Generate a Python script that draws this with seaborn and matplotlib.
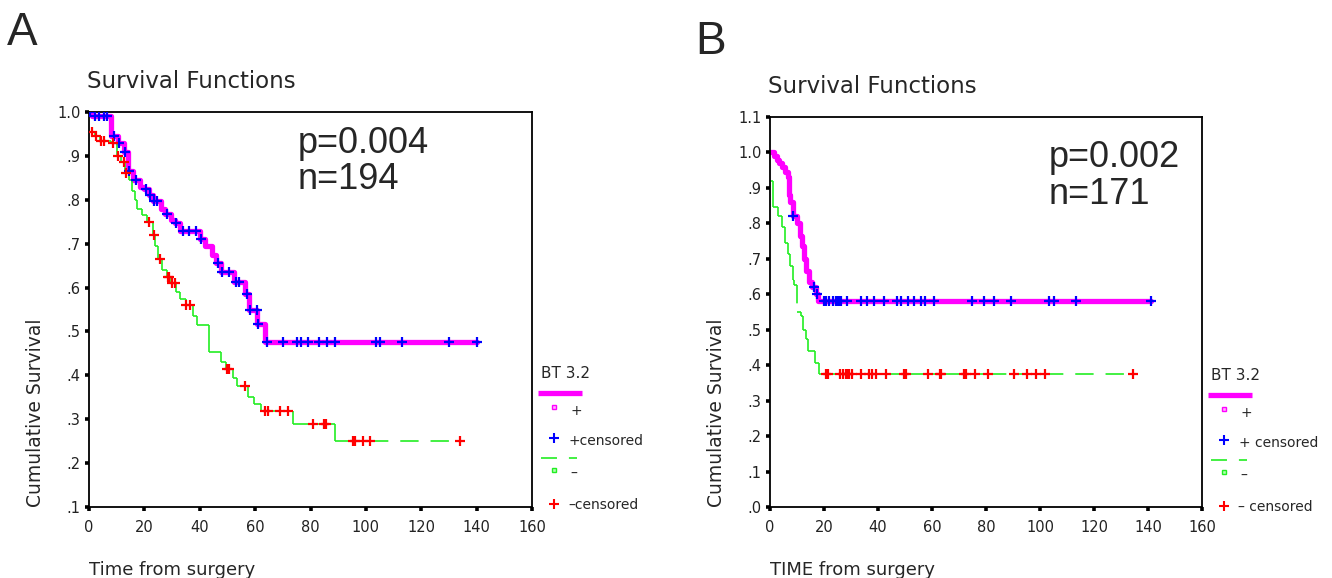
import numpy as np
import pandas as pd
import matplotlib
matplotlib.use("Agg")
import matplotlib.pyplot as plt
from matplotlib.lines import Line2D
from matplotlib.ticker import FuncFormatter
import seaborn as sns

# =====================================================
# DATA  (months from surgery)
# repeated times = several deaths at the same time
# =====================================================
# panel A, BT3.2 "+" : step times / survival after each step
a_pos_t = [0, 1, 8, 10.5, 12.5, 14, 16, 18.5, 20, 21.5, 23, 26, 27.5, 29.5, 31, 33,
           40, 42, 44.5, 46, 47.5, 52.5, 56.5, 57.8, 60.8, 63.6, 140]
a_pos_s = [1.0, .99, .945, .93, .91, .865, .845, .83, .825, .81, .797, .78, .768, .755,
           .748, .73, .71, .695, .675, .657, .636, .613, .586, .55, .516, .477, .477]
a_pos_cens = [0.5, 2, 3.5, 5.5, 6.5, 9, 11, 13, 14.5, 17, 20.5, 22, 23.5, 24.5, 28, 31.5,
              34, 36, 38.5, 40.5, 46.7, 48, 50.5, 53, 54.3, 57, 58.2, 60.6, 61, 64.2, 70,
              75, 76.5, 79, 83, 86, 89, 103.5, 105, 113, 130, 140]

# panel A, BT3.2 "-"
a_neg_t = [0, 2, 4, 8, 10, 11.5, 13, 14.5, 15.5, 16.5, 17.5, 19, 21, 23, 24, 25, 26.5,
           28, 29.5, 31.5, 33, 35, 37.5, 39, 43.5, 43.5, 47.5, 49.5, 52, 53.5, 57.5, 59.5,
           62, 73.5, 89, 89, 134]
a_neg_s = [.955, .945, .935, .93, .90, .885, .86, .845, .82, .80, .78, .765, .75, .72,
           .695, .665, .64, .625, .61, .59, .575, .56, .535, .515, .485, .453, .43, .415,
           .395, .376, .35, .335, .318, .29, .27, .25, .25]
a_neg_cens = [1, 2.5, 4.5, 5.5, 8.5, 10.5, 12.5, 13.5, 21.5, 23.5, 25.5, 28.5, 29, 30, 31,
              35, 36.5, 50, 50.5, 56.5, 63.5, 64.5, 69, 72, 81, 85, 85.5, 95.5, 96, 99,
              101.5, 134]

# panel B, BT3.2 "+"
b_pos_t = [0, 1.5, 2.5, 3.5, 4.5, 5.5, 6.5, 7, 7.5, 8.5, 10, 11, 12, 12.5, 13.5, 14.5,
           15.5, 17, 17.8, 141]
b_pos_s = [1.0, .99, .98, .97, .96, .945, .93, .88, .86, .82, .80, .765, .735, .70, .665,
           .635, .62, .60, .58, .58]
b_pos_cens = [8.7, 16.3, 17.3, 20.1, 20.9, 21.7, 23.3, 24.4, 24.9, 25.7, 26.2, 28.5, 33.6,
              36, 38.7, 42.3, 47.1, 48.7, 51.1, 53.4, 55.8, 57.4, 60.9, 74.9, 79.3, 82.8,
              89.1, 103.4, 105.3, 113.4, 141]

# panel B, BT3.2 "-"
b_neg_t = [0.5, 1, 1, 3, 4.5, 5.5, 6.5, 7.5, 8.5, 9, 10, 11.5, 12.3, 13.5, 14.2, 16.5, 18,
           134.5]
b_neg_s = [.92, .88, .845, .82, .79, .745, .715, .68, .64, .625, .55, .54, .50, .475, .44,
           .405, .375, .375]
b_neg_cens = [20.6, 21.4, 26, 27, 28.1, 28.9, 29.3, 30.4, 33.6, 36.8, 37.6, 39.2, 43.1,
              49.8, 50.3, 58.7, 63, 63.4, 71.7, 72.5, 76.1, 80.9, 90.4, 95.1, 98.6, 101.8,
              134.5]

x_ticks = [0, 20, 40, 60, 80, 100, 120, 140, 160]
a_y_ticks = [0.1, 0.2, 0.3, 0.4, 0.5, 0.6, 0.7, 0.8, 0.9, 1.0]
b_y_ticks = [0.0, 0.1, 0.2, 0.3, 0.4, 0.5, 0.6, 0.7, 0.8, 0.9, 1.0, 1.1]

MAGENTA = "#ff00ff"
BLUE = "#0000ff"
GREEN = "#22ee22"
RED = "#ff0000"
DASH = (0, (13.2, 8.6))

W, H = 1332, 578

# =====================================================
# HELPERS
# =====================================================
def level_at(times, surv, t):
    idx = np.searchsorted(times, t, side="right") - 1
    return np.asarray(surv)[np.clip(idx, 0, None)]


def segment_table(times, surv, cens):
    # every horizontal run and every drop is its own piece,
    # so the dash pattern restarts at each vertex (SPSS look)
    cases = sorted(list(zip(times, surv)) + [(t, None) for t in cens], key=lambda c: c[0])
    cur_t, cur_s = cases[0]
    rows = []
    for k, (t, s) in enumerate(cases[1:]):
        new_s = cur_s if s is None else s
        rows += [(2 * k, cur_t, cur_s), (2 * k, t, cur_s)]
        rows += [(2 * k + 1, t, cur_s), (2 * k + 1, t, new_s)]
        cur_t, cur_s = t, new_s
    return pd.DataFrame(rows, columns=["seg", "t", "s"])


def fmt_tick(v, _):
    s = f"{v:.1f}"
    return s[1:] if s.startswith("0") else s


def fx(px):
    return px / W


def fy(py):
    return 1 - py / H


def draw_panel(ax, pos_t, pos_s, pos_cens, neg_t, neg_s, neg_cens, yticks, ylim):
    sns.lineplot(x=pos_t, y=pos_s, drawstyle="steps-post", estimator=None, sort=False,
                 color=MAGENTA, lw=3.8, ax=ax, legend=False, zorder=2)
    seg = segment_table(neg_t, neg_s, neg_cens)
    sns.lineplot(data=seg, x="t", y="s", units="seg", estimator=None, sort=False,
                 color=GREEN, lw=1.2, linestyle=DASH, ax=ax, legend=False, zorder=2)
    sns.scatterplot(x=pos_cens, y=level_at(pos_t, pos_s, pos_cens), marker="+", s=55,
                    color=BLUE, linewidth=1.6, ax=ax, legend=False, zorder=4)
    sns.scatterplot(x=neg_cens, y=level_at(neg_t, neg_s, neg_cens), marker="+", s=55,
                    color=RED, linewidth=1.6, ax=ax, legend=False, zorder=4)

    ax.set_xlim(0, 160)
    ax.set_ylim(*ylim)
    ax.set_xticks(x_ticks)
    ax.set_yticks(yticks)
    ax.yaxis.set_major_formatter(FuncFormatter(fmt_tick))
    ax.tick_params(direction="out", length=3, width=2.6, color="black",
                   labelsize=10.5, labelcolor="#222222", pad=3)
    ax.tick_params(axis="x", pad=6)
    for sp in ax.spines.values():
        sp.set_visible(True)
        sp.set_linewidth(1.3)
        sp.set_color("black")
    ax.set_title("Survival Functions", loc="left", fontsize=16.5, pad=17, x=-0.005)
    ax.set_ylabel("Cumulative Survival", loc="bottom", fontsize=13.5, labelpad=9)


def draw_key(fig, x0, y0, cens_txt):
    # legend block "BT 3.2" placed by pixel offsets
    fig.text(fx(x0), fy(y0), "BT 3.2", fontsize=11, va="center", ha="left")
    fig.add_artist(Line2D([fx(x0 - 3), fx(x0 + 41)], [fy(y0 + 20)] * 2, color=MAGENTA,
                          lw=3.8, solid_capstyle="butt", transform=fig.transFigure))
    fig.add_artist(Line2D([fx(x0 + 13)], [fy(y0 + 34)], marker="s", ms=3.5, mfc="#ffb0ff",
                          mec=MAGENTA, mew=1, transform=fig.transFigure))
    fig.text(fx(x0 + 29), fy(y0 + 38), "+", fontsize=10, va="center", ha="left")
    fig.add_artist(Line2D([fx(x0 + 13)], [fy(y0 + 65)], marker="+", ms=7, mec=BLUE,
                          mew=1.5, transform=fig.transFigure))
    fig.text(fx(x0 + 28), fy(y0 + 68), "+" + cens_txt, fontsize=10, va="center", ha="left")
    fig.add_artist(Line2D([fx(x0), fx(x0 + 36)], [fy(y0 + 85)] * 2, color=GREEN, lw=1.2,
                          linestyle=(0, (11.5, 8.6)), transform=fig.transFigure))
    fig.add_artist(Line2D([fx(x0 + 13)], [fy(y0 + 97)], marker="s", ms=3.5, mfc="#b0ffb0",
                          mec=GREEN, mew=1, transform=fig.transFigure))
    fig.text(fx(x0 + 29), fy(y0 + 101), "–", fontsize=10, va="center", ha="left")
    fig.add_artist(Line2D([fx(x0 + 13)], [fy(y0 + 131)], marker="+", ms=7, mec=RED,
                          mew=1.5, transform=fig.transFigure))
    fig.text(fx(x0 + 27), fy(y0 + 132), "–" + cens_txt, fontsize=10, va="center", ha="left")


# =====================================================
# FIGURE
# =====================================================
sns.set_style("ticks")
plt.rcParams["font.family"] = ["DejaVu Sans"]
plt.rcParams["lines.scale_dashes"] = False

fig = plt.figure(figsize=(W / 100, H / 100), dpi=100)
ax_a = fig.add_axes([fx(89), fy(507), fx(443), 395 / H])
ax_b = fig.add_axes([fx(770), fy(507), fx(432), 390 / H])

draw_panel(ax_a, a_pos_t, a_pos_s, a_pos_cens, a_neg_t, a_neg_s, a_neg_cens,
           a_y_ticks, (0.1, 1.0))
draw_panel(ax_b, b_pos_t, b_pos_s, b_pos_cens, b_neg_t, b_neg_s, b_neg_cens,
           b_y_ticks, (0.0, 1.1))

ax_a.set_xlabel("Time from surgery", loc="left", fontsize=13, labelpad=19)
ax_b.set_xlabel("TIME from surgery", loc="left", fontsize=13, labelpad=19)

ax_a.text(0.472, 0.965, "p=0.004\nn=194", transform=ax_a.transAxes, fontsize=26,
          family="Liberation Sans", va="top", ha="left", linespacing=1.05)
ax_b.text(0.646, 0.94, "p=0.002\nn=171", transform=ax_b.transAxes, fontsize=26,
          family="Liberation Sans", va="top", ha="left", linespacing=1.05)

draw_key(fig, 541, 373, "censored")
draw_key(fig, 1211, 375, " censored")

fig.text(fx(7), fy(11), "A", fontsize=33, family="Liberation Sans", va="top", ha="left")
fig.text(fx(695), fy(20), "B", fontsize=33, family="Liberation Sans", va="top", ha="left")

fig.savefig("out.png", dpi=100)
